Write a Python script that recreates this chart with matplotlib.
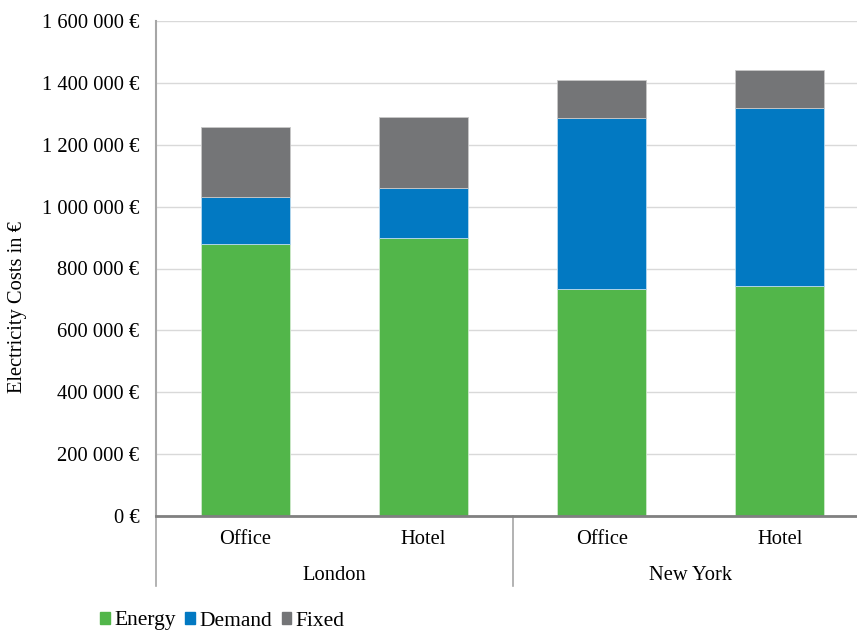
import matplotlib
matplotlib.use("Agg")
import matplotlib.pyplot as plt
from matplotlib.patches import Patch

# data (EUR)
buildings = ["Office", "Hotel", "Office", "Hotel"]
cities = ["London", "New York"]
energy = [878000, 898000, 733000, 742000]
demand = [154000, 161000, 554000, 577000]
fixed = [224000, 231000, 121000, 122000]
yticks = [0, 200000, 400000, 600000, 800000, 1000000, 1200000, 1400000, 1600000]

c_energy = "#52b64a"
c_demand = "#0279c2"
c_fixed = "#747577"

plt.rcParams["font.family"] = ["Liberation Serif", "DejaVu Serif"]
plt.rcParams["font.size"] = 14.8

fig = plt.figure(figsize=(8.57, 6.3), dpi=100)
ax = fig.add_axes([156 / 857, 1 - 516 / 630, 1 - 156 / 857, 495 / 630])

x = list(range(len(buildings)))
w = 0.5
ax.bar(x, energy, w, color=c_energy, edgecolor="#cfe9cc", linewidth=0.6, zorder=3)
bottom2 = energy
ax.bar(x, demand, w, bottom=bottom2, color=c_demand, edgecolor="#b9d9ee", linewidth=0.6, zorder=3)
bottom3 = [e + d for e, d in zip(energy, demand)]
ax.bar(x, fixed, w, bottom=bottom3, color=c_fixed, edgecolor="#c8c8c8", linewidth=0.6, zorder=3)

ax.set_ylim(0, 1600000)
ax.set_xlim(-0.5, (857 - 246) / 178)
ax.set_yticks(yticks)
ax.set_yticklabels([f"{v:,.0f} €".replace(",", " ") for v in yticks])
ax.grid(axis="y", color="#d9d9d9", linewidth=1, zorder=0)
ax.tick_params(axis="y", length=0, pad=12)
ax.tick_params(axis="x", length=0, labelbottom=False)

for s in ["top", "right"]:
    ax.spines[s].set_visible(False)
ax.spines["left"].set_color("#a6a6a6")
ax.spines["left"].set_linewidth(1.5)
ax.spines["bottom"].set_color("#808080")
ax.spines["bottom"].set_linewidth(2)
ax.spines["bottom"].set_zorder(4)

# two-level category axis
tr = ax.get_xaxis_transform()
for i, b in enumerate(buildings):
    ax.text(i, -24 / 495, b, transform=tr, ha="center", va="center")
for j, c in enumerate(cities):
    ax.text(2 * j + 0.5, -60 / 495, c, transform=tr, ha="center", va="center")
for xs in [-0.5, 1.5]:
    ax.plot([xs, xs], [0, -70 / 495], transform=tr, color="#a6a6a6",
            linewidth=1.2, clip_on=False)

fig.text(18 / 857, 1 - 307 / 630, "Electricity Costs in €", rotation=90,
         ha="center", va="center")

handles = [Patch(color=c_energy, label="Energy"),
           Patch(color=c_demand, label="Demand"),
           Patch(color=c_fixed, label="Fixed")]
fig.legend(handles=handles, loc="center left", bbox_to_anchor=(100 / 857, 1 - 621 / 630),
           ncol=3, frameon=False, fontsize=15.5, handlelength=0.45, handleheight=0.45,
           handletextpad=0.2, columnspacing=0.45, borderpad=0, borderaxespad=0)

fig.savefig("out.png", dpi=100)
